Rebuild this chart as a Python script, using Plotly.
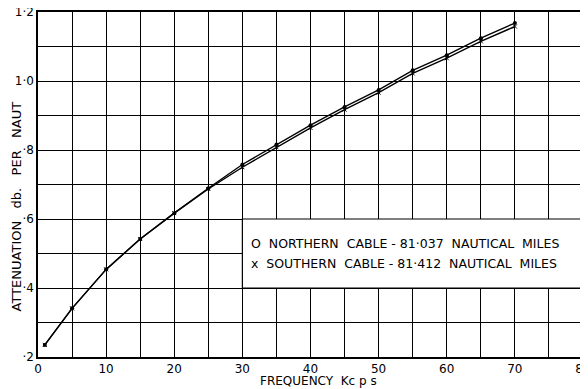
import plotly.graph_objects as go

# frequency in Kc/s
freq = [1, 5, 10, 15, 20, 25, 30, 35, 40, 45, 50, 55, 60, 65, 70]
# attenuation db per naut
northern = [0.235, 0.341, 0.454, 0.542, 0.617, 0.689, 0.758, 0.816, 0.872, 0.925, 0.974, 1.031, 1.075, 1.124, 1.168]
southern = [0.235, 0.341, 0.454, 0.542, 0.617, 0.687, 0.750, 0.808, 0.864, 0.917, 0.966, 1.022, 1.066, 1.115, 1.158]

xticks = [0, 10, 20, 30, 40, 50, 60, 70, 80]
yticks = [0.2, 0.4, 0.6, 0.8, 1.0, 1.2]
ylabels = ["·2", "·4", "·6", "·8", "1·0", "1·2"]

legend_lines = ["O  NORTHERN  CABLE - 81·037  NAUTICAL  MILES",
                "x  SOUTHERN  CABLE - 81·412  NAUTICAL  MILES"]

font = "DejaVu Sans"

fig = go.Figure()
fig.add_trace(go.Scatter(x=freq, y=northern, mode="lines+markers",
                         line=dict(color="black", width=1.4),
                         marker=dict(color="black", size=4, symbol="circle")))
fig.add_trace(go.Scatter(x=freq, y=southern, mode="lines+markers",
                         line=dict(color="black", width=1.4),
                         marker=dict(color="black", size=4, symbol="x-thin",
                                     line=dict(color="black", width=1))))

# white box holding the key
fig.add_shape(type="rect", x0=30, x1=80, y0=0.4, y1=0.6, xref="x", yref="y",
              fillcolor="white", line=dict(color="black", width=1.2), layer="above")
for i, txt in enumerate(legend_lines):
    fig.add_annotation(x=31, y=0.530 - i * 0.058, text=txt, showarrow=False,
                       xanchor="left", xref="x", yref="y",
                       font=dict(family=font, size=12.5, color="black"))

# axis titles
fig.add_annotation(x=0.514, y=0, xref="paper", yref="paper", yanchor="top", yshift=-15,
                   text="FREQUENCY  Kc p s", showarrow=False,
                   font=dict(family=font, size=12, color="black"))
fig.add_annotation(x=0, y=0.435, xref="paper", yref="paper", xanchor="right",
                   xshift=-12, textangle=-90,
                   text="ATTENUATION   db.   PER   NAUT", showarrow=False,
                   font=dict(family=font, size=13, color="black"))

fig.update_xaxes(range=[0, 80], tickvals=xticks, ticktext=[str(v) for v in xticks],
                 showgrid=True, gridcolor="black", gridwidth=1,
                 minor=dict(dtick=5, showgrid=True, gridcolor="black", gridwidth=1),
                 showline=True, linecolor="black", linewidth=1.5, mirror=True,
                 zeroline=False, ticks="", automargin=False, ticklabeloverflow="allow",
                 tickfont=dict(family=font, size=12, color="black"))
fig.update_yaxes(range=[0.2, 1.2], tickvals=yticks, ticktext=ylabels,
                 showgrid=True, gridcolor="black", gridwidth=1,
                 minor=dict(dtick=0.1, showgrid=True, gridcolor="black", gridwidth=1),
                 showline=True, linecolor="black", linewidth=1.5, mirror=True,
                 zeroline=False, ticks="", automargin=False, ticklabeloverflow="allow",
                 tickfont=dict(family=font, size=12, color="black"))

fig.update_layout(width=588, height=389, showlegend=False,
                  paper_bgcolor="white", plot_bgcolor="white",
                  margin=dict(l=30, r=13, t=4, b=40))

fig.write_html("out.html")
